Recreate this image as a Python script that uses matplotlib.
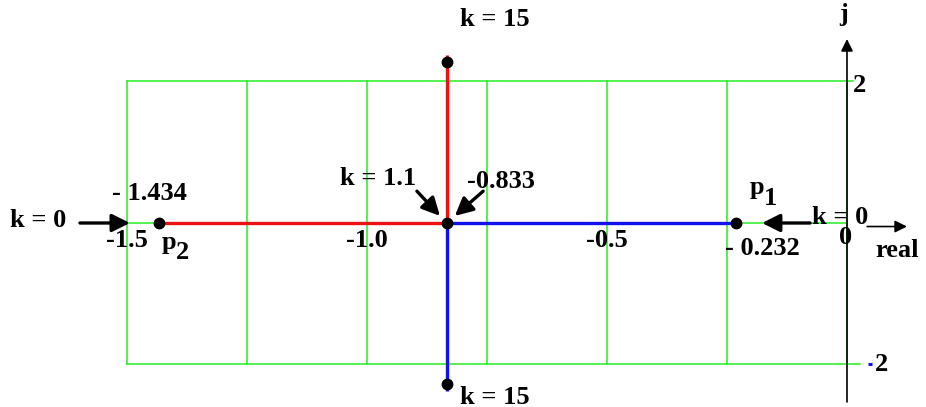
import matplotlib
matplotlib.use("Agg")
import matplotlib.pyplot as plt

# root locus of a two-pole system: poles meet at the breakaway point, then split
pole_p2 = -1.434
pole_p1 = -0.232
breakaway = -0.833
k15_imag = 2.27            # |imag| of the branches at k = 15
grid_x = [-1.5, -1.25, -1.0, -0.75, -0.5, -0.25, 0.0]
grid_y = [-2.0, 2.0]
real_ticks = [-1.5, -1.0, -0.5]
real_tick_labels = ["-1.5", "-1.0", "-0.5"]

GREEN = "#22ee22"
RED = "#ee1111"
BLUE = "#1111ee"
FONT = dict(family="Liberation Serif", fontweight="bold", fontsize=19)

fig = plt.figure(figsize=(9.26, 4.07), dpi=100)
ax = fig.add_axes([0, 0, 1, 1])
ax.set_xlim(-1.7646, 0.1646)
ax.set_ylim(-2.601, 3.152)
ax.axis("off")

# green grid
for gx in grid_x:
    ax.plot([gx, gx], [grid_y[0], grid_y[1]], color=GREEN, lw=1.1, zorder=1)
ax.plot([grid_x[0], 0.012], [grid_y[1]] * 2, color=GREEN, lw=1.1, zorder=1)
ax.plot([grid_x[0], 0.028], [grid_y[0]] * 2, color=GREEN, lw=1.1, zorder=1)
ax.plot([grid_x[0], 0.0], [0, 0], color=GREEN, lw=1.1, zorder=1)

# imaginary axis
ax.annotate("", xy=(0.0, 2.6), xytext=(0.0, -2.53),
            arrowprops=dict(arrowstyle="-|>", color="black", lw=1.2,
                            mutation_scale=18, shrinkA=0, shrinkB=0), zorder=3)
ax.text(-0.008, 2.94, "j", ha="center", va="center", **FONT)

# locus branches
ax.plot([pole_p2, breakaway, breakaway], [0, 0, k15_imag + 0.1], color=RED, lw=2.4,
        solid_capstyle="butt", zorder=4)
ax.plot([pole_p1, breakaway, breakaway], [0, 0, -k15_imag - 0.1], color=BLUE, lw=2.4,
        solid_capstyle="butt", zorder=4)

# poles, breakaway and k = 15 points
ax.plot([pole_p2, pole_p1, breakaway, breakaway, breakaway],
        [0, 0, 0, k15_imag, -k15_imag], "o", color="black", ms=7.5, zorder=5)

# real axis ticks
for tx, tl in zip(real_ticks, real_tick_labels):
    ax.text(tx, -0.25, tl, ha="center", va="center", **FONT)
ax.text(-0.002, -0.2, "0", ha="center", va="center", **FONT)
ax.text(0.0125, 1.94, "2", ha="left", va="center", **FONT)
ax.plot([0.043, 0.052], [grid_y[0]] * 2, color=BLUE, lw=2.2, solid_capstyle="butt")
ax.text(0.058, grid_y[0], "2", ha="left", va="center", **FONT)

# real axis arrow
ax.annotate("", xy=(0.125, -0.05), xytext=(0.042, -0.05),
            arrowprops=dict(arrowstyle="-|>", color="black", lw=1.2,
                            mutation_scale=18, shrinkA=0, shrinkB=0), zorder=3)
ax.text(0.058, -0.39, "real", ha="left", va="center", **FONT)

arrow_kw = dict(arrowstyle="-|>", color="black", lw=2.4, mutation_scale=27,
                shrinkA=0, shrinkB=0)

# k = 0 at the poles
ax.annotate("", xy=(-1.494, 0), xytext=(-1.598, 0), arrowprops=arrow_kw, zorder=6)
ax.text(-1.744, 0.03, "k = 0", ha="left", va="center", **FONT)
ax.annotate("", xy=(-0.177, 0), xytext=(-0.077, 0), arrowprops=arrow_kw, zorder=6)
ax.text(-0.073, 0.08, "k = 0", ha="left", va="center", **FONT)

# breakaway gain and location
ax.annotate("", xy=(-0.848, 0.1), xytext=(-0.896, 0.45), arrowprops=arrow_kw, zorder=6)
ax.text(-1.056, 0.63, "k = 1.1", ha="left", va="center", **FONT)
ax.annotate("", xy=(-0.817, 0.1), xytext=(-0.758, 0.45), arrowprops=arrow_kw, zorder=6)
ax.text(-0.792, 0.58, "%.3f" % breakaway, ha="left", va="center", **FONT)

# pole labels (letter plus lowered index)
ax.text(-1.531, 0.42, "- %.3f" % abs(pole_p2), ha="left", va="center", **FONT)
ax.text(pole_p2 + 0.007, -0.27, "p", ha="left", va="center", **FONT)
ax.text(pole_p2 + 0.036, -0.42, "2", ha="left", va="center", **FONT)
ax.text(-0.202, 0.5, "p", ha="left", va="center", **FONT)
ax.text(-0.173, 0.35, "1", ha="left", va="center", **FONT)
ax.text(-0.254, -0.36, "- %.3f" % abs(pole_p1), ha="left", va="center", **FONT)

# k = 15 labels
ax.text(breakaway + 0.027, 2.87, "k = 15", ha="left", va="center", **FONT)
ax.text(breakaway + 0.027, -2.46, "k = 15", ha="left", va="center", **FONT)

fig.savefig("out.png", dpi=100)
